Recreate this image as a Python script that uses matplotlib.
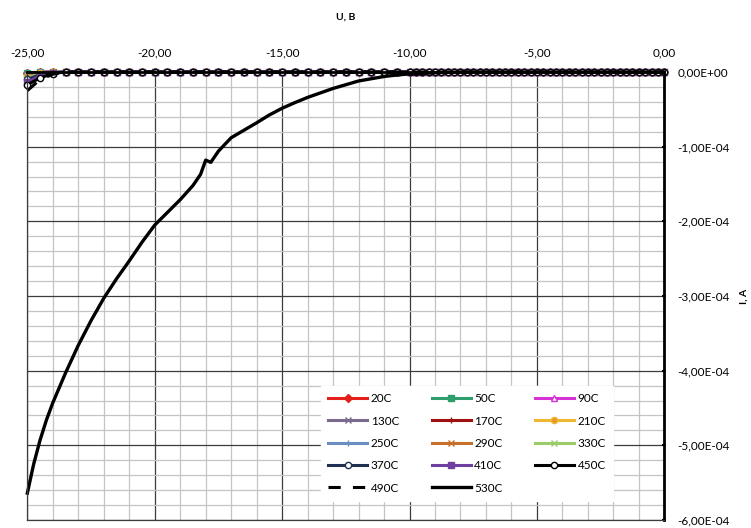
import matplotlib.pyplot as plt
from matplotlib.ticker import MultipleLocator, FuncFormatter

plt.rcParams['font.family'] = ['Lato', 'DejaVu Sans']

# voltage grid of the low-temperature curves, V
u_grid = [-25.0, -24.5, -24.0, -23.5, -23.0, -22.5, -22.0, -21.5, -21.0, -20.5,
          -20.0, -19.5, -19.0, -18.5, -18.0, -17.5, -17.0, -16.5, -16.0, -15.5,
          -15.0, -14.5, -14.0, -13.5, -13.0, -12.5, -12.0, -11.5, -11.0, -10.5,
          -10.0, -9.75, -9.5, -9.25, -9.0, -8.75, -8.5, -8.25, -8.0, -7.75,
          -7.5, -7.25, -7.0, -6.75, -6.5, -6.25, -6.0, -5.75, -5.5, -5.25,
          -5.0, -4.75, -4.5, -4.25, -4.0, -3.75, -3.5, -3.25, -3.0, -2.75,
          -2.5, -2.25, -2.0, -1.75, -1.5, -1.25, -1.0, -0.75, -0.5, -0.25, 0.0]

# first readings of each curve (A); the rest of the curve sits at 0
lead_20 = [-0.01e-4, -0.003e-4]
lead_50 = [-0.015e-4, -0.004e-4]
lead_90 = [-0.02e-4, -0.005e-4]
lead_130 = [-0.03e-4, -0.008e-4]
lead_170 = [-0.04e-4, -0.01e-4]
lead_210 = [-0.05e-4, -0.015e-4]
lead_250 = [-0.06e-4, -0.02e-4]
lead_290 = [-0.07e-4, -0.025e-4, -0.005e-4]
lead_330 = [-0.08e-4, -0.03e-4, -0.007e-4]
lead_370 = [-0.10e-4, -0.035e-4, -0.01e-4]
lead_410 = [-0.14e-4, -0.05e-4, -0.012e-4]
lead_450 = [-0.17e-4, -0.08e-4, -0.02e-4]
lead_490 = [-0.25e-4, -0.10e-4, -0.03e-4]

# 530C curve
u_530 = [-25.0, -24.75, -24.5, -24.25, -24.0, -23.5, -23.0, -22.5, -22.0,
         -21.5, -21.0, -20.5, -20.0, -19.5, -19.0, -18.5, -18.2, -18.0, -17.8,
         -17.5, -17.0, -16.5, -16.0, -15.5, -15.0, -14.5, -14.0, -13.5, -13.0,
         -12.5, -12.0, -11.5, -11.0, -10.5, -10.0, -9.0, -8.0, -6.0, -4.0,
         -2.0, 0.0]
i_530 = [-5.64e-4, -5.25e-4, -4.93e-4, -4.66e-4, -4.43e-4, -4.03e-4, -3.66e-4,
         -3.33e-4, -3.03e-4, -2.77e-4, -2.53e-4, -2.28e-4, -2.05e-4, -1.88e-4,
         -1.71e-4, -1.52e-4, -1.37e-4, -1.18e-4, -1.21e-4, -1.06e-4, -0.88e-4,
         -0.78e-4, -0.68e-4, -0.575e-4, -0.485e-4, -0.41e-4, -0.34e-4, -0.28e-4,
         -0.22e-4, -0.17e-4, -0.12e-4, -0.09e-4, -0.06e-4, -0.04e-4, -0.025e-4,
         -0.01e-4, 0.0, 0.0, 0.0, 0.0, 0.0]

labels = ['20C', '50C', '90C', '130C', '170C', '210C', '250C', '290C',
          '330C', '370C', '410C', '450C', '490C', '530C']
leads = [lead_20, lead_50, lead_90, lead_130, lead_170, lead_210, lead_250,
         lead_290, lead_330, lead_370, lead_410, lead_450, lead_490]


def pad(lead):
    return lead + [0.0] * (len(u_grid) - len(lead))


# colour, marker, marker face
styles = [
    ('#e3201c', 'D', '#e3201c'),
    ('#2e9e6e', 's', '#2e9e6e'),
    ('#d633d6', '^', 'white'),
    ('#7a6a8e', 'x', '#7a6a8e'),
    ('#a01010', '+', '#a01010'),
    ('#f0b830', 'o', '#e8962a'),
    ('#6a8ec0', '|', '#6a8ec0'),
    ('#c8702a', 'x', '#c8702a'),
    ('#9bcb6b', 'x', '#9bcb6b'),
    ('#1f3050', 'o', 'white'),
    ('#7040a0', 's', '#7040a0'),
    ('black', 'o', 'white'),
]

fig = plt.figure(figsize=(7.51, 5.28), dpi=100)
ax = fig.add_axes([0.0364, 0.0152, 0.8482, 0.8484])

handles = []
for lead, lab, (col, mk, mfc) in zip(leads[:-1], labels[:12], styles):
    h, = ax.plot(u_grid, pad(lead), color=col, lw=2.2, marker=mk,
                 markersize=4.5, mfc=mfc, mec=col, mew=1.0, label=lab,
                 clip_on=False)
    handles.append(h)
h, = ax.plot(u_grid, pad(lead_490), color='black', lw=2.2,
             linestyle=(0, (4, 4)), label='490C', clip_on=False)
handles.append(h)
h, = ax.plot(u_530, i_530, color='black', lw=2.4, label='530C',
             solid_joinstyle='round', clip_on=False)
handles.append(h)

ax.set_xlim(-25, 0)
ax.set_ylim(-6e-4, 0)

ax.xaxis.set_major_locator(MultipleLocator(5))
ax.xaxis.set_minor_locator(MultipleLocator(1))
ax.yaxis.set_major_locator(MultipleLocator(1e-4))
ax.yaxis.set_minor_locator(MultipleLocator(2e-5))


def fmt_x(v, pos):
    if abs(v) < 1e-9:
        v = 0.0
    return f'{v:.2f}'.replace('.', ',')


def fmt_y(v, pos):
    if abs(v) < 1e-12:
        v = 0.0
    return f'{v:.2E}'.replace('.', ',')


ax.xaxis.set_major_formatter(FuncFormatter(fmt_x))
ax.yaxis.set_major_formatter(FuncFormatter(fmt_y))

ax.xaxis.tick_top()
ax.yaxis.tick_right()
ax.tick_params(axis='x', which='major', labelsize=8.5, length=0, pad=10,
               top=True, bottom=False)
ax.tick_params(axis='x', which='minor', length=0)
ax.tick_params(axis='y', which='major', labelsize=8.5, length=3,
               direction='inout', width=1.5, pad=8)
ax.tick_params(axis='y', which='minor', length=0)

ax.grid(which='minor', color='#c4c4c4', lw=0.9)
ax.grid(which='major', color='#3c3c3c', lw=0.9)
ax.set_axisbelow(True)

for side in ('left', 'bottom'):
    ax.spines[side].set_color('#3c3c3c')
    ax.spines[side].set_linewidth(0.9)
for side in ('right', 'top'):
    ax.spines[side].set_color('black')
    ax.spines[side].set_linewidth(2.0)

ax.xaxis.set_label_position('top')
ax.set_xlabel('U, B', fontsize=7.5, fontweight='bold', labelpad=20)
ax.yaxis.set_label_position('right')
ax.set_ylabel('I, A', fontsize=7.5, fontweight='bold', labelpad=7)

order = [0, 3, 6, 9, 12, 1, 4, 7, 10, 13, 2, 5, 8, 11]
leg = ax.legend([handles[i] for i in order], [labels[i] for i in order],
                ncol=3, loc='lower left', bbox_to_anchor=(0.452, 0.03),
                fontsize=8.5, frameon=True, fancybox=False, framealpha=1,
                facecolor='white', edgecolor='white', numpoints=1,
                handlelength=3.3, handletextpad=0.3, columnspacing=2.75,
                labelspacing=0.96, borderpad=0.6)

fig.savefig('out.png', dpi=100)
